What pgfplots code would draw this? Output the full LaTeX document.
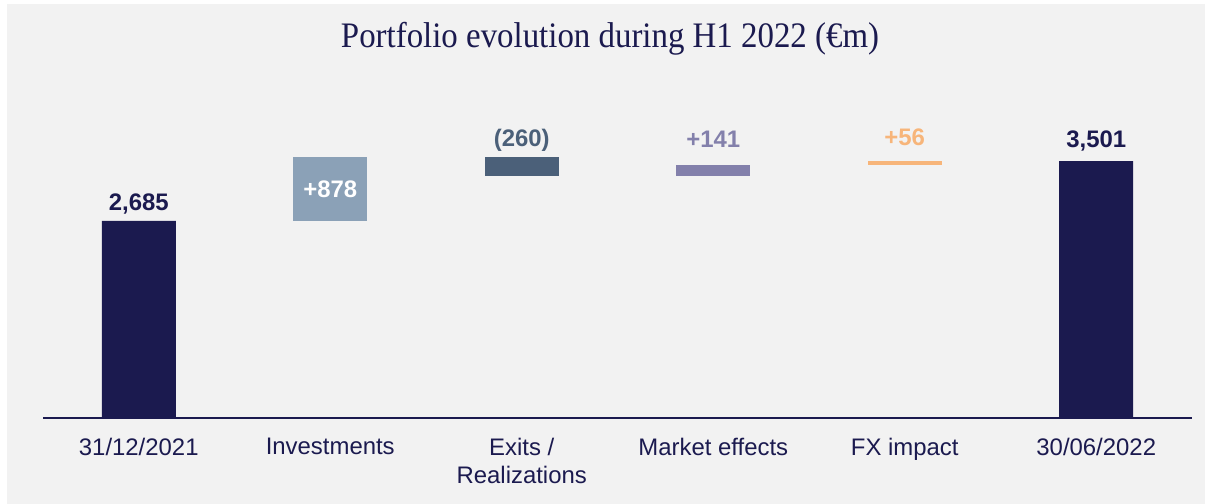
\documentclass[border=0pt]{standalone}
\usepackage{pgfplots}
\pgfplotsset{compat=1.18}
\usepackage{fontspec}
\setmainfont{Liberation Sans}
\newfontfamily\titlefont{Liberation Serif}
\definecolor{navy}{HTML}{1B1A4F}
\definecolor{inv}{HTML}{8BA1B7}
\definecolor{exits}{HTML}{4B6079}
\definecolor{mkt}{HTML}{8380AB}
\definecolor{fx}{HTML}{F7B57A}
\definecolor{bg}{HTML}{F2F2F2}
\begin{document}
\begin{tikzpicture}
\useasboundingbox (0bp,0bp) rectangle (1205bp,504bp);
\fill[bg] (7bp,-10bp) rectangle (1215bp,500bp);
\node[anchor=base, text=navy, xscale=0.917, inner sep=0pt] at (610bp,456bp) {\titlefont\fontsize{36}{40}\selectfont Portfolio evolution during H1 2022 (€m)};
\begin{axis}[
  at={(43bp,86bp)}, anchor=south west,
  scale only axis, width=1149bp, height=293.5bp,
  xmin=-0.5, xmax=5.5, ymin=0, ymax=4000,
  ybar stacked, bar width=74bp,
  axis y line=none, axis x line=bottom,
  x axis line style={-, draw=navy, line width=2bp},
  xtick={0,1,2,3,4,5},
  xticklabels={31/12/2021, Investments, {Exits /\\Realizations}, Market effects, FX impact, 30/06/2022},
  major tick length=0pt,
  xticklabel style={anchor=north, inner sep=0pt, yshift=-20bp, align=center, text=navy, font=\fontsize{24}{28}\selectfont},
  clip=false,
  after end axis/.append code={
    \node[text=navy, font=\fontsize{24}{28}\selectfont\bfseries] at (axis cs:0,2917) {2,685};
    \node[text=white, font=\fontsize{24}{28}\selectfont\bfseries] at (axis cs:1,3121) {+878};
    \node[text=exits, font=\fontsize{24}{28}\selectfont\bfseries] at (axis cs:2,3789) {(260)};
    \node[text=mkt, font=\fontsize{24}{28}\selectfont\bfseries] at (axis cs:3,3803) {+141};
    \node[text=fx, font=\fontsize{24}{28}\selectfont\bfseries] at (axis cs:4,3830) {+56};
    \node[text=navy, font=\fontsize{24}{28}\selectfont\bfseries] at (axis cs:5,3775) {3,501};
  },
]
\addplot[fill=bg, draw=none, fill opacity=0] coordinates {(0,0) (1,2685) (2,3303) (3,3303) (4,3444) (5,0)};
\addplot[fill=navy, draw=none] coordinates {(0,2685) (1,0) (2,0) (3,0) (4,0) (5,3501)};
\addplot[fill=inv, draw=none] coordinates {(0,0) (1,878) (2,0) (3,0) (4,0) (5,0)};
\addplot[fill=exits, draw=none] coordinates {(0,0) (1,0) (2,260) (3,0) (4,0) (5,0)};
\addplot[fill=mkt, draw=none] coordinates {(0,0) (1,0) (2,0) (3,141) (4,0) (5,0)};
\addplot[fill=fx, draw=none] coordinates {(0,0) (1,0) (2,0) (3,0) (4,56) (5,0)};
\end{axis}
\end{tikzpicture}
\end{document}
